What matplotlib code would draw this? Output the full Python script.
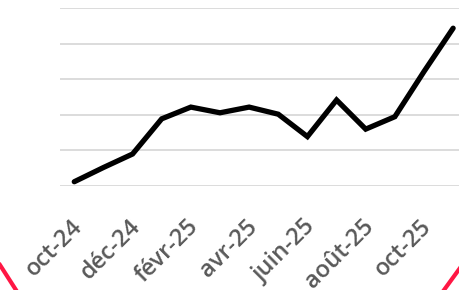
import numpy as np
import matplotlib.pyplot as plt
import matplotlib.transforms as mtransforms
from matplotlib.lines import Line2D

months = ['oct-24', 'nov-24', 'déc-24', 'janv-25', 'févr-25', 'mars-25', 'avr-25',
          'mai-25', 'juin-25', 'juil-25', 'août-25', 'sept-25', 'oct-25', 'nov-25']
values = [0.12, 0.52, 0.90, 1.89, 2.22, 2.06, 2.22, 2.02, 1.39, 2.42, 1.60, 1.95, 3.22, 4.44]
yticks = [0, 1, 2, 3, 4, 5]

fig = plt.figure(figsize=(4.6, 2.9), dpi=100)
# axes runs off the right edge, like the cropped original
ax = fig.add_axes([59.7 / 460, 104 / 290, 408 / 460, 177.7 / 290])

x = np.arange(len(months))
ax.plot(x, values, color='black', lw=3.8, solid_capstyle='round', solid_joinstyle='miter', zorder=3)

ax.set_xlim(-0.5, len(months) - 0.5)
ax.set_ylim(0, 5)
ax.set_yticks(yticks)
ax.yaxis.grid(True, color='#d9d9d9', lw=1.3)
ax.tick_params(axis='y', left=False, labelleft=False)
ax.tick_params(axis='x', length=0, pad=20)
ax.set_xticks(x[::2])
ax.set_xticklabels(months[::2], rotation=45, ha='right', rotation_mode='anchor',
                   fontsize=17, color='#595959', fontfamily='Open Sans', fontweight='semibold')
shift = mtransforms.ScaledTranslation(-4 / 100, -1 / 100, fig.dpi_scale_trans)
for lab in ax.get_xticklabels():
    lab.set_transform(lab.get_transform() + shift)
for s in ax.spines.values():
    s.set_visible(False)

# red decorative arcs in the bottom corners
fig.add_artist(Line2D([0, 16 / 460], [25 / 290, 0], color='#ff1744', lw=3, transform=fig.transFigure))
fig.add_artist(Line2D([444 / 460, 1], [0, 22 / 290], color='#ff1744', lw=3, transform=fig.transFigure))

fig.savefig('out.png', dpi=100)
